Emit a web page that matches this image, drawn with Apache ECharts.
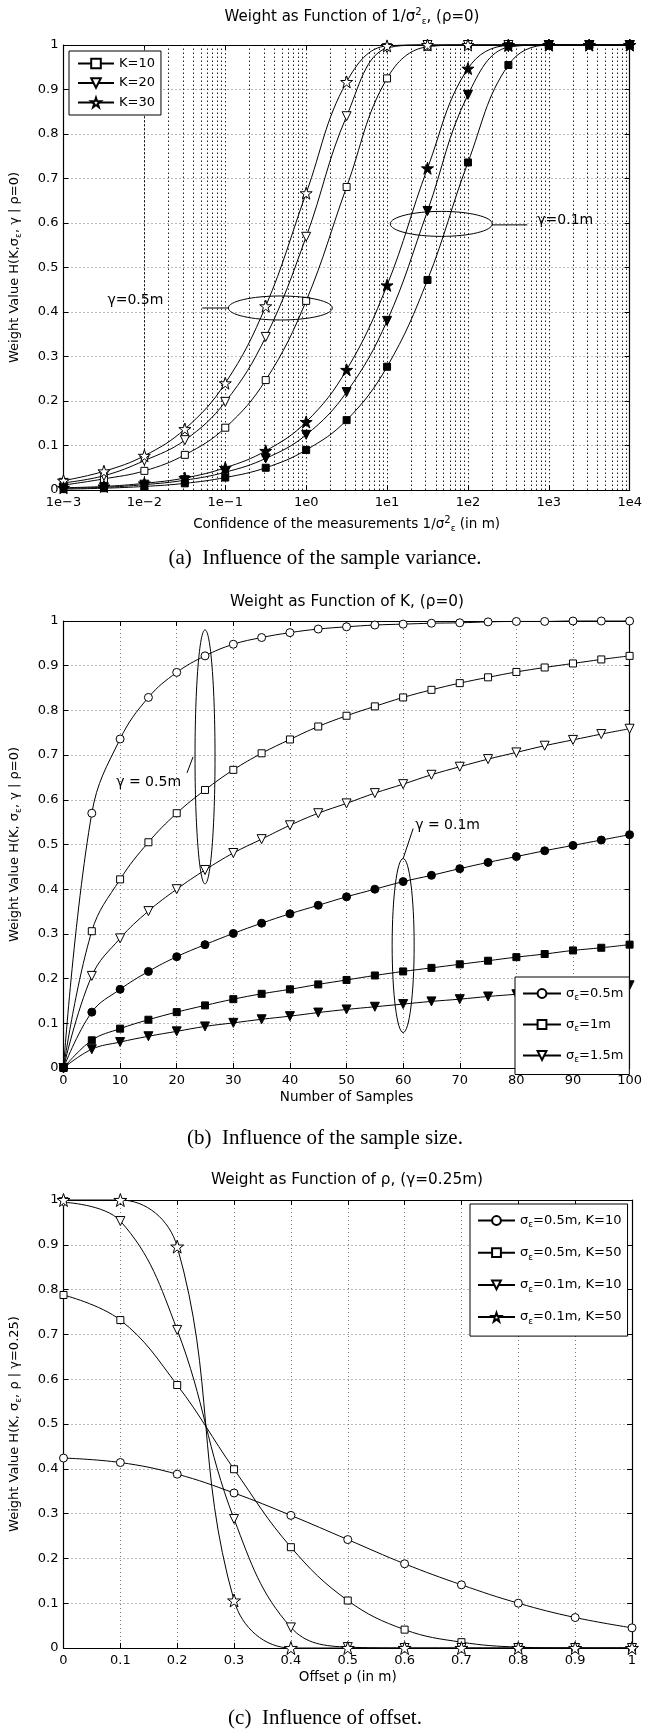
<!DOCTYPE html>
<html>
<head>
<meta charset="utf-8">
<script src="https://cdn.jsdelivr.net/npm/echarts@6.0.0/dist/echarts.min.js"></script>
<style>
html, body { margin: 0; padding: 0; background: #fff; }
#main { width: 645px; height: 1729px; }
</style>
</head>
<body>
<div id="main"></div>
<script>
// (a) weight vs confidence 1/sigma^2, markers every half decade
const confX = [0.001, 0.003162, 0.01, 0.03162, 0.1, 0.3162, 1, 3.162, 10, 31.62, 100, 316.2, 1000, 3162, 10000];
const confTickLabels = ['1e\u22123', '1e\u22122', '1e\u22121', '1e0', '1e1', '1e2', '1e3', '1e4'];
const minorMant = [2, 3, 4, 5, 6, 7, 8, 9];
const decades = [0.001, 0.01, 0.1, 1, 10, 100, 1000];
// gamma = 0.5m (open markers)
const k10g05 = [0.011, 0.025, 0.043, 0.079, 0.140, 0.247, 0.425, 0.681, 0.925, 0.996, 1, 1, 1, 1, 1];
const k20g05 = [0.016, 0.032, 0.066, 0.112, 0.198, 0.344, 0.569, 0.840, 0.993, 1, 1, 1, 1, 1, 1];
const k30g05 = [0.021, 0.042, 0.077, 0.137, 0.240, 0.413, 0.667, 0.917, 0.998, 1, 1, 1, 1, 1, 1];
// gamma = 0.1m (filled markers)
const k10g01 = [0.002, 0.004, 0.008, 0.015, 0.028, 0.050, 0.090, 0.157, 0.277, 0.472, 0.736, 0.955, 1, 1, 1];
const k20g01 = [0.004, 0.006, 0.012, 0.022, 0.040, 0.071, 0.124, 0.220, 0.380, 0.627, 0.888, 0.995, 1, 1, 1];
const k30g01 = [0.005, 0.008, 0.015, 0.027, 0.050, 0.088, 0.153, 0.270, 0.460, 0.723, 0.947, 0.999, 1, 1, 1];

// (b) weight vs number of samples K
const sampleK = [0, 5, 10, 15, 20, 25, 30, 35, 40, 45, 50, 55, 60, 65, 70, 75, 80, 85, 90, 95, 100];
const s05g05 = [0, 0.570, 0.736, 0.829, 0.885, 0.922, 0.948, 0.963, 0.974, 0.982, 0.987, 0.991, 0.993, 0.995, 0.996, 0.998, 0.999, 0.999, 1, 1, 1];
const s10g05 = [0, 0.306, 0.422, 0.505, 0.570, 0.622, 0.667, 0.704, 0.735, 0.764, 0.788, 0.809, 0.829, 0.846, 0.861, 0.874, 0.886, 0.896, 0.905, 0.914, 0.922];
const s15g05 = [0, 0.206, 0.290, 0.351, 0.400, 0.443, 0.481, 0.512, 0.543, 0.570, 0.592, 0.615, 0.635, 0.656, 0.674, 0.691, 0.706, 0.721, 0.734, 0.747, 0.759];
const s05g01 = [0, 0.125, 0.176, 0.216, 0.249, 0.276, 0.301, 0.324, 0.345, 0.364, 0.383, 0.400, 0.417, 0.431, 0.446, 0.460, 0.473, 0.486, 0.498, 0.510, 0.522];
const s10g01 = [0, 0.062, 0.088, 0.108, 0.125, 0.140, 0.154, 0.166, 0.176, 0.187, 0.197, 0.207, 0.216, 0.224, 0.232, 0.240, 0.248, 0.255, 0.263, 0.269, 0.276];
const s15g01 = [0, 0.042, 0.058, 0.071, 0.082, 0.093, 0.101, 0.109, 0.116, 0.124, 0.131, 0.137, 0.143, 0.149, 0.154, 0.160, 0.165, 0.170, 0.175, 0.180, 0.185];

// (c) weight vs offset rho
const offsetX = [0, 0.1, 0.2, 0.3, 0.4, 0.5, 0.6, 0.7, 0.8, 0.9, 1];
const s05k10 = [0.424, 0.414, 0.388, 0.346, 0.296, 0.242, 0.188, 0.141, 0.100, 0.068, 0.045];
const s05k50 = [0.788, 0.732, 0.587, 0.399, 0.225, 0.106, 0.041, 0.013, 0.002, 0, 0];
const s01k10 = [0.995, 0.953, 0.710, 0.288, 0.046, 0.002, 0, 0, 0, 0, 0];
const s01k50 = [1, 1, 0.896, 0.106, 0, 0, 0, 0, 0, 0, 0];

const SANS = 'DejaVu Sans, Liberation Sans, Arial, sans-serif';
const SERIF = 'Liberation Serif, Times New Roman, serif';
const STAR = 'path://M50,0 L61.8,35.1 L98.1,35.1 L68.7,56.8 L79.4,91.9 L50,70.2 L20.6,91.9 L31.3,56.8 L1.9,35.1 L38.2,35.1 Z';

const sq = { symbol: 'rect', size: 7 };
const tri = { symbol: 'triangle', size: 9, rotate: 180 };
const star = { symbol: STAR, size: 12 };
const circ = { symbol: 'circle', size: 8 };
function filled(s) { return Object.assign({}, s, { filled: true }); }

const subRich = {
    s: { fontFamily: SANS, fontSize: 9, padding: [9, 0, 0, 0], color: '#000' },
    p: { fontFamily: SANS, fontSize: 10, padding: [0, 0, 9, 0], color: '#000' }
};

const grids = [
    { left: 63, width: 569, top: 45, height: 445 },
    { left: 63, width: 569, top: 621, height: 447 },
    { left: 63, width: 569, top: 1200, height: 448 }
];

const dotted = { show: true, lineStyle: { color: '#777', type: [1, 3], width: 1 } };
const darkDotted = { show: true, lineStyle: { color: '#222', type: [1.5, 2.5], width: 1 } };

function xAxes(g, base) {
    const bottom = Object.assign({
        gridIndex: g,
        position: 'bottom',
        axisLine: { show: true, onZero: false, lineStyle: { color: '#000', width: 1.2 } },
        axisTick: { show: true, inside: true, length: 5, lineStyle: { color: '#000' } },
        axisLabel: Object.assign({ color: '#000', fontFamily: SANS, fontSize: 13, margin: 6 }, base.axisLabel || {}),
        splitLine: base.splitLine || dotted,
        nameLocation: 'middle',
        nameGap: base.nameGap,
        nameTextStyle: { color: '#000', fontFamily: SANS, fontSize: 13.5, rich: subRich }
    }, base.scale);
    bottom.name = base.name;
    const top = Object.assign({
        gridIndex: g,
        position: 'top',
        axisLine: { show: true, onZero: false, lineStyle: { color: '#000', width: 1.2 } },
        axisTick: { show: true, inside: true, length: 5, lineStyle: { color: '#000' } },
        axisLabel: { show: false },
        splitLine: { show: false }
    }, base.scale);
    return [bottom, top];
}

function yAxes(g, name) {
    const scale = { type: 'value', min: 0, max: 1, interval: 0.1 };
    return [
        Object.assign({
            gridIndex: g,
            position: 'left',
            name: name,
            nameLocation: 'middle',
            nameGap: 40,
            nameTextStyle: { color: '#000', fontFamily: SANS, fontSize: 13, rich: subRich },
            axisLine: { show: true, onZero: false, lineStyle: { color: '#000', width: 1.2 } },
            axisTick: { show: true, inside: true, length: 5, lineStyle: { color: '#000' } },
            axisLabel: { color: '#000', fontFamily: SANS, fontSize: 13, margin: 5 },
            splitLine: dotted
        }, scale),
        Object.assign({
            gridIndex: g,
            position: 'right',
            axisLine: { show: true, onZero: false, lineStyle: { color: '#000', width: 1.2 } },
            axisTick: { show: true, inside: true, length: 5, lineStyle: { color: '#000' } },
            axisLabel: { show: false },
            splitLine: { show: false }
        }, scale)
    ];
}

function curve(name, g, xs, ys, sym) {
    return {
        name: name,
        type: 'line',
        xAxisIndex: 2 * g,
        yAxisIndex: 2 * g,
        data: xs.map(function (x, i) { return [x, ys[i]]; }),
        smooth: 0.4,
        symbol: sym.symbol,
        symbolSize: sym.size,
        symbolRotate: sym.rotate || 0,
        clip: false,
        silent: true,
        lineStyle: { color: '#000', width: 1 },
        itemStyle: { color: sym.filled ? '#000' : '#fff', borderColor: '#000', borderWidth: 1 },
        emphasis: { disabled: true }
    };
}

// minor log grid lines for (a)
const minorLines = [];
decades.forEach(function (d) {
    minorMant.forEach(function (m) { minorLines.push({ xAxis: d * m }); });
});

const seriesA = [
    curve('K=10', 0, confX, k10g05, sq),
    curve('K=20', 0, confX, k20g05, tri),
    curve('K=30', 0, confX, k30g05, star),
    curve('K=10, \u03b3=0.1m', 0, confX, k10g01, filled(sq)),
    curve('K=20, \u03b3=0.1m', 0, confX, k20g01, filled(tri)),
    curve('K=30, \u03b3=0.1m', 0, confX, k30g01, filled(star))
];
seriesA[0].markLine = {
    silent: true,
    symbol: ['none', 'none'],
    label: { show: false },
    lineStyle: { color: '#222', type: [1.5, 2.5], width: 1 },
    data: minorLines,
    z: 1
};

const seriesB = [
    curve('s05', 1, sampleK, s05g05, circ),
    curve('s10', 1, sampleK, s10g05, sq),
    curve('s15', 1, sampleK, s15g05, tri),
    curve('s05 g01', 1, sampleK, s05g01, filled(circ)),
    curve('s10 g01', 1, sampleK, s10g01, filled(sq)),
    curve('s15 g01', 1, sampleK, s15g01, filled(tri))
];

const seriesC = [
    curve('c1', 2, offsetX, s05k10, circ),
    curve('c2', 2, offsetX, s05k50, sq),
    curve('c3', 2, offsetX, s01k10, tri),
    curve('c4', 2, offsetX, s01k50, Object.assign({}, star, { size: 13 }))
];

const legendNames = {
    s05: '\u03c3{s|\u03b5}=0.5m',
    s10: '\u03c3{s|\u03b5}=1m',
    s15: '\u03c3{s|\u03b5}=1.5m',
    c1: '\u03c3{s|\u03b5}=0.5m, K=10',
    c2: '\u03c3{s|\u03b5}=0.5m, K=50',
    c3: '\u03c3{s|\u03b5}=0.1m, K=10',
    c4: '\u03c3{s|\u03b5}=0.1m, K=50'
};

function legendBox(data, left, top, pad, itemWidth, itemHeight, gap) {
    return {
        data: data,
        orient: 'vertical',
        left: left,
        top: top,
        padding: pad,
        itemWidth: itemWidth,
        itemHeight: itemHeight,
        itemGap: gap,
        selectedMode: false,
        backgroundColor: '#fff',
        borderColor: '#000',
        borderWidth: 1,
        formatter: function (n) { return legendNames[n] || n; },
        textStyle: { color: '#000', fontFamily: SANS, fontSize: 13, rich: subRich }
    };
}

const chart = echarts.init(document.getElementById('main'));
chart.setOption({
    animation: false,
    backgroundColor: '#fff',
    grid: grids.map(function (g) { return Object.assign({ show: false }, g); }),
    xAxis: [].concat(
        xAxes(0, {
            scale: { type: 'log', logBase: 10, min: 0.001, max: 10000 },
            axisLabel: { formatter: function (v) { return confTickLabels[Math.round(Math.log10(v)) + 3]; } },
            splitLine: darkDotted,
            name: 'Confidence of the measurements 1/\u03c3{p|2}{s|\u03b5} (in m)',
            nameGap: 25
        }),
        xAxes(1, {
            scale: { type: 'value', min: 0, max: 100, interval: 10 },
            name: 'Number of Samples',
            nameGap: 22
        }),
        xAxes(2, {
            scale: { type: 'value', min: 0, max: 1, interval: 0.1 },
            name: 'Offset \u03c1 (in m)',
            nameGap: 22
        })
    ),
    yAxis: [].concat(
        yAxes(0, 'Weight Value H(K,\u03c3{s|\u03b5}, \u03b3 | \u03c1=0)'),
        yAxes(1, 'Weight Value H(K, \u03c3{s|\u03b5}, \u03b3 | \u03c1=0)'),
        yAxes(2, 'Weight Value H(K, \u03c3{s|\u03b5}, \u03c1 | \u03b3=0.25)')
    ),
    legend: [
        legendBox(['K=10', 'K=20', 'K=30'], 69, 51, [6, 6, 6, 8], 36, 12, 6.5),
        legendBox(['s05', 's10', 's15'], 515, 977, [10, 6, 10, 7], 38, 11, 15.5),
        legendBox(['c1', 'c2', 'c3', 'c4'], 470, 1204, [10, 6, 10, 7], 37, 11, 16.7)
    ],
    series: seriesA.concat(seriesB, seriesC)
});

function px(g, pt) {
    return chart.convertToPixel({ xAxisIndex: 2 * g, yAxisIndex: 2 * g }, pt);
}
function txt(x, y, text, size, family, align) {
    return {
        type: 'text', x: x, y: y, z: 100,
        style: {
            text: text, fill: '#000', fontSize: size, fontFamily: family,
            align: align || 'center', verticalAlign: 'middle', rich: subRich
        }
    };
}
function ell(c, rx, ry) {
    return {
        type: 'ellipse', z: 100,
        shape: { cx: c[0], cy: c[1], rx: rx, ry: ry },
        style: { fill: 'none', stroke: '#000', lineWidth: 1 }
    };
}
function seg(x1, y1, x2, y2) {
    return {
        type: 'line', z: 100,
        shape: { x1: x1, y1: y1, x2: x2, y2: y2 },
        style: { stroke: '#000', lineWidth: 1 }
    };
}

// annotation anchors (data coords)
const a1 = px(0, [0.479, 0.409]);
const a2 = px(0, [46.8, 0.598]);
const b1 = px(1, [25, 0.696]);
const b2 = px(1, [60, 0.274]);

chart.setOption({
    graphic: [
        txt(352, 17, 'Weight as Function of 1/\u03c3{p|2}{s|\u03b5}, (\u03c1=0)', 15, SANS),
        txt(325, 558, '(a)\u2002Influence of the sample variance.', 21, SERIF),
        txt(347, 602, 'Weight as Function of K, (\u03c1=0)', 15.3, SANS),
        txt(325, 1138, '(b)\u2002Influence of the sample size.', 21, SERIF),
        txt(347, 1180, 'Weight as Function of \u03c1, (\u03b3=0.25m)', 15.3, SANS),
        txt(325, 1718, '(c)\u2002Influence of offset.', 21, SERIF),

        ell(a1, 52, 12),
        seg(a1[0] - 52, a1[1], a1[0] - 78, a1[1]),
        txt(a1[0] - 117, a1[1] - 8, '\u03b3=0.5m', 14, SANS, 'right'),
        ell(a2, 51, 12.5),
        seg(a2[0] + 51, a2[1] + 1, a2[0] + 86, a2[1] + 1),
        txt(a2[0] + 96, a2[1] - 4, '\u03b3=0.1m', 14, SANS, 'left'),

        ell(b1, 10, 127),
        seg(b1[0] - 12, b1[1], b1[0] - 18, b1[1] + 16),
        txt(b1[0] - 24, b1[1] + 25, '\u03b3 = 0.5m', 14, SANS, 'right'),
        ell(b2, 11, 87),
        seg(b2[0], b2[1] - 87, b2[0] + 10, b2[1] - 117),
        txt(b2[0] + 12, b2[1] - 120, '\u03b3 = 0.1m', 14, SANS, 'left')
    ]
});

window.addEventListener('resize', function () {
    chart.resize();
});
</script>
</body>
</html>
